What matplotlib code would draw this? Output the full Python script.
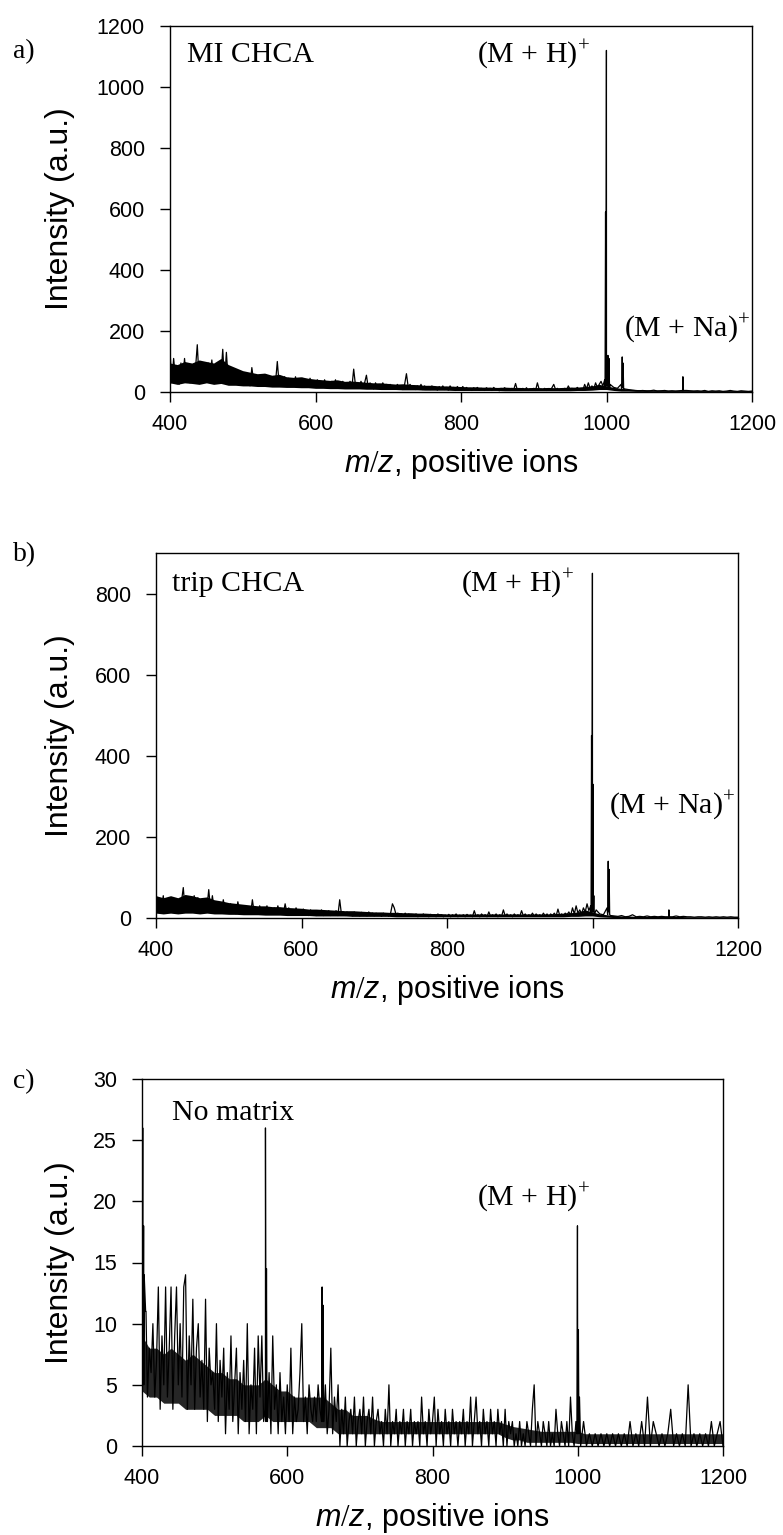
import numpy as np
import matplotlib
matplotlib.use("Agg")
import matplotlib.pyplot as plt

plt.rcParams['font.family'] = ['Liberation Sans', 'DejaVu Sans']
plt.rcParams['mathtext.fontset'] = 'custom'
plt.rcParams['mathtext.rm'] = 'Liberation Serif'
plt.rcParams['mathtext.it'] = 'Liberation Sans:italic'

# ---------------- data ----------------
x_ticks = [400, 600, 800, 1000, 1200]

# dense baseline-noise envelope (lower / upper edge of the black band), read every 10 m/z, 400..1200
env_start, env_step = 400.0, 10.0
a_env_hi = [95, 90, 100, 95, 105, 100, 95, 110, 90, 80,
            70, 65, 60, 62, 55, 58, 50, 48, 50, 45,
            42, 40, 38, 40, 35, 36, 34, 32, 30, 30,
            28, 26, 27, 25, 24, 22, 22, 20, 20, 19,
            18, 17, 17, 16, 16, 15, 16, 15, 15, 14,
            15, 14, 15, 14, 15, 16, 16, 18, 20, 25,
            20, 15, 12, 10, 8, 8, 7, 7, 6, 6,
            6, 6, 6, 5, 5, 5, 5, 5, 5, 5,
            5]
a_env_lo = [30, 25, 30, 28, 25, 30, 25, 28, 22, 22,
            20, 20, 18, 18, 16, 16, 15, 15, 14, 14,
            12, 12, 11, 11, 10, 10, 10, 9, 9, 8,
            8, 8, 7, 7, 7, 6, 6, 6, 6, 5,
            5, 5, 5, 5, 5, 5, 4, 4, 4, 4,
            4, 4, 4, 4, 4, 4, 5, 5, 6, 8,
            8, 5, 3, 3, 2, 2, 2, 2, 2, 2,
            2, 2, 2, 2, 2, 2, 2, 2, 2, 2,
            2]
b_env_hi = [55, 50, 55, 50, 58, 55, 50, 52, 45, 42,
            38, 36, 34, 32, 30, 30, 28, 28, 26, 25,
            24, 22, 22, 21, 20, 19, 18, 18, 17, 16,
            15, 15, 14, 14, 13, 13, 12, 12, 11, 11,
            10, 10, 10, 10, 10, 10, 10, 10, 10, 10,
            10, 10, 10, 10, 10, 11, 12, 13, 15, 20,
            15, 10, 8, 6, 5, 5, 4, 4, 4, 4,
            4, 4, 4, 3, 3, 3, 3, 3, 3, 3,
            3]
b_env_lo = [12, 10, 12, 10, 12, 12, 10, 12, 10, 10,
            9, 9, 8, 8, 8, 7, 7, 7, 6, 6,
            6, 6, 5, 5, 5, 5, 5, 4, 4, 4,
            4, 4, 4, 3, 3, 3, 3, 3, 3, 3,
            3, 3, 3, 3, 3, 3, 3, 3, 3, 3,
            3, 3, 3, 3, 3, 3, 3, 4, 4, 5,
            5, 3, 2, 1, 1, 1, 1, 1, 1, 1,
            1, 1, 1, 1, 1, 1, 1, 1, 1, 1,
            1]
c_env_hi = [9, 8, 8, 7.5, 8, 7.5, 7, 7.5, 7, 6.5,
            6, 6, 5.5, 5.5, 5, 5, 5, 5.5, 5, 4.5,
            4.5, 4, 4, 4, 4, 4, 3.5, 3, 3, 2.5,
            2.5, 2.5, 2.2, 2, 2, 2, 2, 2, 2, 2,
            2, 2, 2, 2, 2, 2, 2, 2, 2, 2,
            1.8, 1.6, 1.5, 1.4, 1.3, 1.2, 1.2, 1.2, 1.2, 1.2,
            1.2, 1, 1, 1, 1, 1, 1, 1, 1, 1,
            1, 1, 1, 1, 1, 1, 1, 1, 1, 1,
            1]
c_env_lo = [4.5, 4, 4, 3.5, 3.5, 3.5, 3, 3, 3, 3,
            2.5, 2.5, 2.5, 2.5, 2, 2, 2, 2.5, 2, 2,
            2, 2, 2, 2, 1.5, 1.5, 1.5, 1, 1, 1,
            1, 1, 1, 1, 1, 1, 1, 1, 1, 1,
            1, 1, 1, 1, 1, 1, 1, 1, 1, 1,
            0.7, 0.5, 0.5, 0.3, 0.3, 0.3, 0.3, 0.3, 0.3, 0.3,
            0.2, 0.2, 0.2, 0.2, 0.2, 0.2, 0.2, 0.2, 0.2, 0.2,
            0.2, 0.2, 0.2, 0.2, 0.2, 0.2, 0.2, 0.2, 0.2, 0.2,
            0.2]

# panel a: MI CHCA
# spectrum read every 2.5 m/z from 400 to 997.5, then every 5 m/z from 1000 to 1200
a_dense_start, a_dense_step = 400.0, 2.5
a_dense = [135, 30, 110, 45, 80, 25, 95, 40,
           110, 35, 70, 30, 90, 45, 75, 155,
           40, 100, 30, 85, 45, 95, 35, 105,
           40, 90, 30, 75, 50, 140, 35, 130,
           40, 75, 30, 65, 25, 70, 35, 55,
           25, 60, 30, 50, 20, 80, 35, 55,
           25, 50, 30, 45, 20, 55, 25, 45,
           20, 50, 30, 100, 25, 45, 20, 50,
           25, 45, 20, 40, 25, 50, 20, 40,
           25, 45, 15, 40, 20, 45, 25, 35,
           15, 40, 20, 35, 15, 40, 20, 30,
           15, 35, 20, 40, 15, 30, 20, 35,
           15, 30, 20, 35, 15, 75, 20, 30,
           15, 35, 20, 30, 55, 15, 30, 20,
           10, 30, 15, 25, 10, 30, 15, 25,
           10, 25, 15, 20, 10, 25, 15, 20,
           8, 25, 60, 15, 25, 10, 20, 8,
           20, 10, 25, 8, 20, 12, 18, 8,
           20, 10, 15, 6, 18, 10, 20, 8,
           15, 6, 20, 10, 15, 5, 18, 8,
           10, 18, 6, 15, 8, 12, 5, 14,
           8, 15, 6, 12, 10, 5, 14, 8,
           12, 5, 15, 8, 10, 4, 12, 8,
           14, 6, 10, 5, 12, 8, 28, 6,
           10, 5, 12, 6, 14, 5, 10, 6,
           12, 5, 30, 8, 10, 6, 12, 5,
           10, 6, 14, 25, 8, 12, 5, 10,
           6, 12, 5, 20, 8, 12, 6, 10,
           15, 8, 12, 6, 25, 10, 30, 12,
           20, 10, 30, 15, 25, 35, 20, 40]
a_tail_start, a_tail_step = 1000.0, 5.0
a_tail = [20, 25, 15, 12, 25, 10, 8, 6, 5, 4,
          5, 3, 4, 6, 3, 4, 5, 3, 4, 3,
          4, 3, 5, 4, 3, 4, 3, 5, 2, 4,
          3, 4, 2, 3, 5, 3, 2, 4, 3, 2,
          3]
a_peak_mz = [998.0, 998.7, 999.3, 999.9, 1000.5, 1001.3, 1002.0, 1002.6, 1003.4, 1004.2,
             1020.8, 1021.6, 1022.2, 1022.8, 1023.6, 1104.4, 1105.0, 1105.6]
a_peak_int = [15, 590, 20, 1120, 30, 20, 120, 15, 110, 10,
              10, 115, 15, 95, 8, 5, 50, 5]
a_yticks = [0, 200, 400, 600, 800, 1000, 1200]

# panel b: trip CHCA
b_dense_start, b_dense_step = 400.0, 2.5
b_dense = [65, 15, 45, 25, 55, 15, 40, 20,
           50, 20, 35, 15, 45, 25, 40, 75,
           20, 50, 15, 45, 25, 55, 15, 50,
           20, 45, 15, 40, 25, 70, 20, 55,
           20, 40, 15, 35, 12, 45, 20, 30,
           12, 35, 15, 30, 10, 40, 18, 30,
           12, 30, 15, 25, 10, 45, 12, 25,
           10, 30, 15, 25, 12, 30, 10, 25,
           12, 25, 10, 30, 12, 20, 10, 35,
           12, 25, 8, 20, 10, 25, 12, 20,
           8, 22, 10, 18, 6, 20, 10, 18,
           6, 18, 10, 20, 6, 15, 10, 18,
           6, 15, 8, 18, 6, 45, 8, 15,
           6, 15, 8, 12, 5, 15, 8, 12,
           5, 14, 8, 12, 5, 15, 6, 12,
           5, 12, 6, 10, 4, 12, 6, 10,
           4, 12, 35, 25, 8, 12, 5, 10,
           4, 12, 6, 10, 4, 8, 6, 10,
           3, 8, 5, 10, 4, 8, 3, 9,
           4, 8, 3, 10, 5, 8, 3, 7,
           4, 9, 3, 8, 5, 10, 3, 7,
           4, 8, 3, 9, 4, 7, 3, 18,
           4, 8, 3, 10, 5, 8, 3, 15,
           4, 8, 5, 10, 3, 8, 4, 20,
           5, 10, 4, 8, 3, 10, 5, 8,
           4, 18, 5, 10, 4, 8, 5, 12,
           4, 10, 5, 8, 4, 12, 5, 10,
           4, 10, 6, 12, 5, 22, 6, 10,
           5, 12, 8, 15, 6, 25, 10, 30,
           12, 20, 10, 25, 15, 35, 18, 30]
b_tail_start, b_tail_step = 1000.0, 5.0
b_tail = [15, 20, 10, 8, 25, 6, 5, 4, 6, 3,
          4, 8, 3, 4, 3, 5, 3, 4, 3, 4,
          3, 4, 3, 5, 3, 4, 3, 3, 2, 3,
          3, 2, 3, 2, 3, 2, 3, 2, 3, 2,
          2]
b_peak_mz = [998.0, 998.7, 999.3, 999.9, 1000.5, 1001.1, 1001.8, 1002.5, 1003.3,
             1020.8, 1021.6, 1022.2, 1022.8, 1023.6, 1104.4, 1105.0, 1105.6]
b_peak_int = [10, 450, 15, 850, 330, 15, 55, 8, 12,
              8, 140, 15, 120, 8, 3, 20, 3]
b_yticks = [0, 200, 400, 600, 800]

# panel c: no matrix
c_dense_start, c_dense_step = 400.0, 2.5
c_dense = [9, 5, 11, 4, 8, 6, 10, 4,
           7, 13, 3, 9, 5, 13, 4, 8,
           13, 3, 9, 13, 5, 10, 4, 13,
           14, 3, 9, 5, 12, 3, 8, 10,
           4, 7, 3, 12, 2, 8, 5, 6,
           3, 10, 2, 7, 4, 8, 1, 6,
           3, 9, 2, 5, 8, 1, 6, 3,
           7, 2, 10, 1, 5, 3, 8, 1,
           9, 4, 9, 2, 5, 3, 6, 1,
           9, 3, 5, 1, 6, 2, 4, 1,
           5, 2, 8, 1, 4, 2, 3, 6,
           10, 2, 4, 1, 5, 3, 2, 4,
           2, 5, 3, 4, 2, 5, 1, 3,
           8, 1, 4, 2, 5, 0, 3, 1,
           4, 0, 2, 3, 1, 4, 0, 2,
           3, 1, 4, 0, 2, 3, 1, 4,
           0, 2, 3, 1, 2, 0, 3, 1,
           5, 0, 2, 1, 3, 0, 2, 1,
           3, 0, 2, 1, 3, 0, 2, 1,
           2, 0, 4, 1, 2, 0, 3, 1,
           2, 4, 0, 3, 1, 2, 0, 3,
           1, 2, 0, 3, 1, 2, 0, 2,
           1, 3, 0, 2, 1, 4, 0, 2,
           4, 1, 2, 0, 3, 1, 2, 0,
           3, 1, 2, 0, 3, 1, 2, 0,
           3, 0, 2, 1, 2, 0, 1, 0,
           2, 0, 1, 0, 2, 1, 0, 3,
           5, 0, 2, 1, 0, 2, 1, 0,
           2, 0, 1, 0, 3, 1, 0, 2,
           1, 0, 2, 0, 4, 1, 0, 2]
c_tail_start, c_tail_step = 1000.0, 4.0
c_tail = [1, 0, 2, 0, 1, 0, 1, 0, 1, 0,
          1, 0, 1, 0, 1, 0, 1, 0, 2, 0,
          1, 0, 2, 0, 4, 0, 2, 1, 0, 1,
          0, 1, 3, 0, 1, 0, 1, 0, 5, 0,
          1, 0, 1, 0, 1, 0, 2, 0, 1, 2,
          0]
c_peak_mz = [401.0, 401.6, 402.2, 403.0, 405.5,
             569.3, 570.0, 570.7, 571.4, 572.0, 572.7,
             647.3, 648.0, 648.7, 649.5, 650.3,
             998.8, 999.6, 1000.3, 1000.9, 1001.6, 1002.4]
c_peak_int = [26, 7, 18, 14, 11,
              3, 26, 2, 14.5, 4, 2,
              2, 13, 2, 11.5, 2,
              1, 18, 2, 9.5, 1, 4]
c_yticks = [0, 5, 10, 15, 20, 25, 30]

panel_letters = ["a)", "b)", "c)"]
sample_labels = ["MI CHCA", "trip CHCA", "No matrix"]
ion_labels_h = ["(M + H)$^{+}$", "(M + H)$^{+}$", "(M + H)$^{+}$"]
ion_labels_na = ["(M + Na)$^{+}$", "(M + Na)$^{+}$", None]

# ---------------- layout ----------------
W, H = 783, 1535
fig = plt.figure(figsize=(W / 100, H / 100), dpi=100)

def rect(l, r, t, b):
    return [l / W, 1 - b / H, (r - l) / W, (b - t) / H]

panels = [
    dict(rect=rect(170, 752, 26, 392),
         segs=[(a_dense_start, a_dense_step, a_dense), (a_tail_start, a_tail_step, a_tail)],
         env=(a_env_lo, a_env_hi), band_color="black",
         pmz=a_peak_mz, pint=a_peak_int, ylim=1200, yticks=a_yticks, letter_y=52,
         sample_xy=(423, 1105), h_xy=(977, 1105), na_xy=(1198, 207)),
    dict(rect=rect(156, 738, 553, 918),
         segs=[(b_dense_start, b_dense_step, b_dense), (b_tail_start, b_tail_step, b_tail)],
         env=(b_env_lo, b_env_hi), band_color="black",
         pmz=b_peak_mz, pint=b_peak_int, ylim=900, yticks=b_yticks, letter_y=555,
         sample_xy=(422, 824), h_xy=(975, 824), na_xy=(1196, 277)),
    dict(rect=rect(142, 723, 1079, 1446),
         segs=[(c_dense_start, c_dense_step, c_dense), (c_tail_start, c_tail_step, c_tail)],
         env=(c_env_lo, c_env_hi), band_color="0.15",
         pmz=c_peak_mz, pint=c_peak_int, ylim=30, yticks=c_yticks, letter_y=1082,
         sample_xy=(441, 27.2), h_xy=(1017, 20.3), na_xy=None),
]

ylabel_x_px = 60

for i, p in enumerate(panels):
    ax = fig.add_axes(p["rect"])

    lo, hi = p["env"]
    env_mz = env_start + env_step * np.arange(len(lo))
    ax.fill_between(env_mz, lo, hi, color=p["band_color"], lw=0)

    mz_parts, int_parts = [], []
    for start, step, vals in p["segs"]:
        mz_parts.append(start + step * np.arange(len(vals)))
        int_parts.append(np.asarray(vals, dtype=float))
    mz_parts.append(np.asarray(p["pmz"], dtype=float))
    int_parts.append(np.asarray(p["pint"], dtype=float))
    mz = np.concatenate(mz_parts)
    inten = np.concatenate(int_parts)
    order = np.argsort(mz, kind="stable")
    ax.plot(mz[order], inten[order], color="black", lw=0.9)

    ax.set_xlim(400, 1200)
    ax.set_ylim(0, p["ylim"])
    ax.set_xticks(x_ticks)
    ax.set_yticks(p["yticks"])
    for s in ax.spines.values():
        s.set_linewidth(1.0)
        s.set_color("black")
    ax.tick_params(axis="both", direction="out", length=7, width=1.0, labelsize=15.5, colors="black")
    ax.tick_params(axis="x", pad=9)
    ax.tick_params(axis="y", pad=11)

    ax.set_xlabel(r"$\it{m/z}$, positive ions", fontsize=22)
    ax.xaxis.label.set_va("center")
    ax.xaxis.set_label_coords(0.5, -72 / 366)
    ax.set_ylabel("Intensity (a.u.)", fontsize=23)
    ax.yaxis.label.set_va("center")
    l_px = p["rect"][0] * W
    w_px = p["rect"][2] * W
    ax.yaxis.set_label_coords((ylabel_x_px - l_px) / w_px, 0.5)

    serif = dict(family="Liberation Serif", fontsize=21.5, color="black", va="center")
    ax.text(*p["sample_xy"], sample_labels[i], ha="left", **serif)
    ax.text(*p["h_xy"], ion_labels_h[i], ha="right", **serif)
    if p["na_xy"] is not None:
        ax.text(*p["na_xy"], ion_labels_na[i], ha="right", **serif)

    fig.text(13 / W, 1 - p["letter_y"] / H, panel_letters[i], family="Liberation Serif",
             fontsize=20, ha="left", va="center")

fig.savefig("out.png", dpi=100)
